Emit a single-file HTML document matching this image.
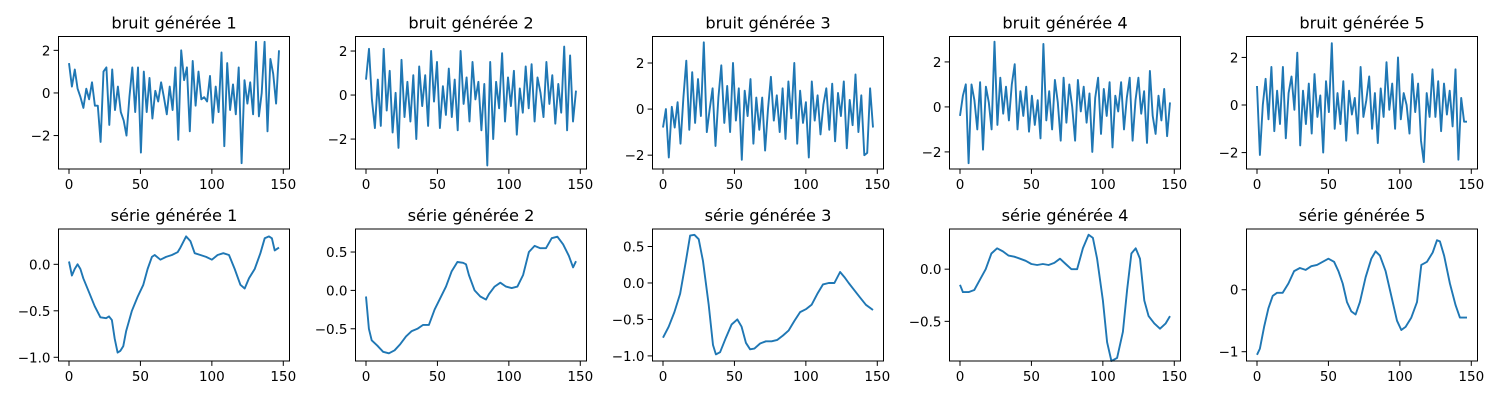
<!DOCTYPE html>
<html><head><meta charset="utf-8"><style>
html,body{margin:0;padding:0;background:#fff;}
svg{display:block;font-family:"DejaVu Sans","Liberation Sans",sans-serif;}
</style></head><body>
<svg id="fig" width="1500" height="400" viewBox="0 0 1500 400" xmlns="http://www.w3.org/2000/svg"></svg>
<script>
const titles = ["bruit générée 1","bruit générée 2","bruit générée 3","bruit générée 4","bruit générée 5",
"série générée 1","série générée 2","série générée 3","série générée 4","série générée 5"];
const xTicks = [0,50,100,150];
const noise1 = [1.4,0.3,1.1,0.2,-0.2,-0.7,0.2,-0.3,0.5,-0.6,-0.6,-2.3,1.0,1.2,-1.5,1.1,-0.8,0.3,-0.9,-1.3,-2.0,-0.2,1.2,-0.9,1.2,-2.8,1.0,-0.9,0.7,-1.2,0.1,-0.4,0.5,-0.2,-1.0,0.3,-0.8,1.2,-2.2,2.0,0.6,1.2,-1.8,1.5,-0.6,1.0,-0.3,-0.2,-0.4,0.8,-1.4,0.3,-0.9,1.9,-2.5,1.4,-0.8,0.4,-1.0,1.2,-3.3,0.6,-0.5,0.5,-1.0,2.4,-1.1,0.0,2.4,-1.8,1.6,0.9,-0.5,2.0];
const noise2 = [0.7,2.1,-0.2,-1.5,0.7,-1.4,2.1,-0.7,1.1,-1.7,0.1,-2.4,1.6,-1.0,0.6,-1.2,0.9,-2.0,1.3,-0.5,0.9,-1.4,2.0,-0.3,1.5,-1.5,0.4,-0.9,1.2,-1.0,0.7,-1.6,2.0,-0.4,0.8,-1.2,1.5,-0.2,0.6,-1.6,0.5,-3.2,1.5,-2.0,0.6,-0.6,1.9,-1.2,0.8,-0.5,1.1,-1.8,0.3,-0.8,1.3,-0.6,1.4,-1.2,0.8,0.1,-1.0,1.5,-0.4,0.9,-1.3,0.5,-0.8,2.2,-1.6,1.8,-1.2,0.2];
const noise3 = [-0.8,0.0,-2.1,0.1,-0.8,0.3,-1.5,0.5,2.1,-0.9,1.6,-0.6,1.3,-0.3,2.9,-1.0,0.0,0.9,-1.6,0.5,1.9,-0.6,1.0,-1.0,2.0,-0.5,0.9,-2.2,0.8,-0.3,1.3,-1.5,0.5,-0.9,0.5,-1.8,0.0,1.4,-0.5,0.6,-1.0,0.9,-1.3,1.2,-0.4,2.0,-1.5,0.8,-0.6,0.3,-2.1,1.2,-0.5,0.6,-1.1,0.2,0.9,-0.9,1.1,-1.4,0.7,-0.3,1.2,-1.7,0.4,-0.7,1.5,-1.0,0.6,-2.0,-1.9,0.9,-0.8];
const noise4 = [-0.4,0.5,1.0,-2.5,1.0,0.3,-1.0,1.1,-1.9,0.9,0.2,-1.0,2.9,-0.8,1.3,-0.3,0.9,-0.6,1.0,1.9,-1.0,0.7,-0.4,0.9,-1.1,0.5,-0.8,0.3,-1.4,2.8,-0.6,0.7,-1.0,1.2,0.2,-1.5,1.3,-0.7,1.0,0.0,-1.5,1.2,-0.2,0.9,-0.7,0.6,-2.0,0.4,1.3,-1.2,0.8,-0.4,1.1,-1.8,0.5,-0.2,1.1,-1.0,0.4,1.3,-1.5,0.3,1.3,-0.3,0.7,-1.6,1.6,-0.4,-1.2,0.5,-0.6,0.8,-1.3,0.2];
const noise5 = [0.8,-2.1,0.0,1.1,-0.6,1.6,-1.1,0.6,-0.8,1.6,-1.4,0.5,1.2,-0.2,2.2,-1.7,0.6,-0.8,0.9,-1.2,1.3,-0.5,0.4,-2.0,1.0,-0.3,2.6,-1.0,0.5,-0.8,1.0,-1.5,0.6,-0.4,0.3,-1.2,1.6,-0.5,0.2,1.2,-1.0,0.5,-1.6,0.7,-0.5,1.8,-0.2,0.9,-1.0,2.0,-0.6,0.5,0.0,-1.2,1.3,-0.3,0.9,-1.5,-2.4,0.5,-0.5,1.5,-0.5,1.0,-1.1,0.9,-0.4,0.6,-0.9,1.5,-2.3,0.3,-0.7,-0.7];
const s1x = [0,2,4,6,8,10,14,18,22,26,28,30,32,34,36,38,40,44,48,52,55,58,60,64,68,72,76,78,82,85,88,92,96,100,104,108,112,116,120,123,126,130,134,137,140,142,144,147];
const s1y = [0.03,-0.12,-0.05,0.0,-0.05,-0.15,-0.3,-0.45,-0.57,-0.58,-0.56,-0.6,-0.8,-0.95,-0.93,-0.88,-0.72,-0.5,-0.35,-0.22,-0.05,0.08,0.1,0.05,0.08,0.1,0.13,0.18,0.3,0.25,0.12,0.1,0.08,0.05,0.1,0.12,0.1,-0.05,-0.22,-0.26,-0.15,-0.05,0.12,0.28,0.3,0.28,0.15,0.18];
const s2x = [0,2,4,8,12,16,20,24,28,32,36,40,44,48,52,56,60,64,68,70,72,76,80,84,86,90,94,98,102,106,110,114,118,122,126,130,134,138,142,145,147];
const s2y = [-0.08,-0.5,-0.65,-0.72,-0.8,-0.82,-0.78,-0.7,-0.6,-0.53,-0.5,-0.45,-0.45,-0.25,-0.1,0.05,0.25,0.37,0.36,0.34,0.2,0.0,-0.08,-0.12,-0.05,0.05,0.1,0.05,0.03,0.05,0.2,0.5,0.58,0.55,0.55,0.68,0.7,0.6,0.45,0.3,0.38];
const s3x = [0,4,8,12,16,19,22,25,28,32,35,37,40,44,48,52,55,58,61,64,68,72,76,80,84,88,92,96,100,104,108,112,116,120,124,127,130,134,138,142,147];
const s3y = [-0.75,-0.6,-0.4,-0.15,0.3,0.65,0.66,0.6,0.3,-0.3,-0.85,-0.98,-0.95,-0.75,-0.57,-0.5,-0.6,-0.82,-0.91,-0.9,-0.83,-0.8,-0.8,-0.78,-0.72,-0.65,-0.52,-0.4,-0.36,-0.3,-0.15,-0.02,0.0,0.0,0.15,0.08,0.0,-0.1,-0.2,-0.3,-0.37];
const s4x = [0,2,6,10,14,18,22,26,30,34,38,42,46,50,54,58,62,66,70,74,78,82,86,90,93,96,100,103,106,110,114,117,120,123,126,129,132,136,140,144,147];
const s4y = [-0.15,-0.22,-0.22,-0.2,-0.1,0.0,0.15,0.2,0.17,0.13,0.12,0.1,0.08,0.05,0.04,0.05,0.04,0.06,0.1,0.05,0.0,0.0,0.2,0.33,0.3,0.1,-0.3,-0.7,-0.88,-0.85,-0.6,-0.2,0.15,0.2,0.1,-0.3,-0.45,-0.52,-0.57,-0.52,-0.45];
const s5x = [0,2,5,8,11,14,18,22,26,30,34,38,42,46,50,54,57,60,63,66,69,72,76,80,83,86,90,94,98,101,104,108,112,115,119,123,126,128,131,135,139,142,145,147];
const s5y = [-1.05,-0.95,-0.6,-0.3,-0.1,-0.05,-0.05,0.1,0.3,0.35,0.32,0.38,0.4,0.45,0.5,0.45,0.3,0.1,-0.2,-0.35,-0.4,-0.2,0.2,0.5,0.62,0.55,0.3,-0.1,-0.5,-0.65,-0.6,-0.45,-0.2,0.4,0.45,0.6,0.8,0.78,0.55,0.1,-0.25,-0.45,-0.45,-0.45];
const yTicksList = [[-2,0,2],[-2,0,2],[-2,0,2],[-2,0,2],[-2,0,2],[-1.0,-0.5,0.0],[-0.5,0.0,0.5],[-1.0,-0.5,0.0,0.5],[-0.5,0.0],[-1,0]];
const yLims = [[-3.57,2.65],[-3.36,2.66],[-2.6,3.15],[-2.76,3.13],[-2.69,2.88],[-1.04,0.38],[-0.92,0.8],[-1.07,0.74],[-0.88,0.385],[-1.15,0.98]];
const yFmt = [0,0,0,0,0,1,1,1,1,0];

const NS="http://www.w3.org/2000/svg";
const svg=document.getElementById('fig');
function mk(t,a,p){const e=document.createElementNS(NS,t);for(const k in a)e.setAttribute(k,a[k]);(p||svg).appendChild(e);return e;}
const lefts=[58.5,355.5,652.5,949.5,1246.5], W=231, tops=[36.5,229], Hs=[132.5,132];
const noises=[noise1,noise2,noise3,noise4,noise5];
const sx=[s1x,s2x,s3x,s4x,s5x], sy=[s1y,s2y,s3y,s4y,s5y];
for(let k=0;k<10;k++){
  const r=Math.floor(k/5), c=k%5, L=lefts[c], T=tops[r], H=Hs[r];
  const g=mk('g',{});
  
  
  const xs=v=>L+(v+7.35)/161.7*W;
  const [y0,y1]=yLims[k];
  const ys=v=>T+H-(v-y0)/(y1-y0)*H;
  let X,Y;
  if(r===0){Y=noises[c];X=Y.map((_,i)=>i*147/(Y.length-1));}else{X=sx[c];Y=sy[c];}
  const d=X.map((x,i)=>(i?'L':'M')+xs(x).toFixed(1)+' '+ys(Y[i]).toFixed(1)).join(' ');
  const p=mk('path',{d:d,fill:'none',stroke:'#1f77b4','stroke-width':'1.9','stroke-linejoin':'round'},g);
  
  
  const fr=mk('rect',{x:L,y:T,width:W,height:H,fill:'none',stroke:'#000','stroke-width':'1'},g);
  
  
  xTicks.forEach(t=>{const x=xs(t);
    mk('line',{x1:x,x2:x,y1:T+H,y2:T+H+4.9,stroke:'#000','stroke-width':'1'},g);
    const tx=mk('text',{x:x,y:T+H+20,'text-anchor':'middle','font-size':'13.5'},g);
    tx.textContent=String(t);
    
    
  });
  yTicksList[k].forEach(t=>{const y=ys(t);
    mk('line',{x1:L-4.9,x2:L,y1:y,y2:y,stroke:'#000','stroke-width':'1'},g);
    const tx=mk('text',{x:L-8,y:y+5,'text-anchor':'end','font-size':'13.5'},g);
    tx.textContent=(t<0?'\u2212':'')+Math.abs(t).toFixed(yFmt[k]);
    
    
  });
  const ti=mk('text',{x:L+W/2,y:T-8,'text-anchor':'middle','font-size':'16.2'},g);
  ti.textContent=titles[k];
  
  
}
</script>
</body></html>
